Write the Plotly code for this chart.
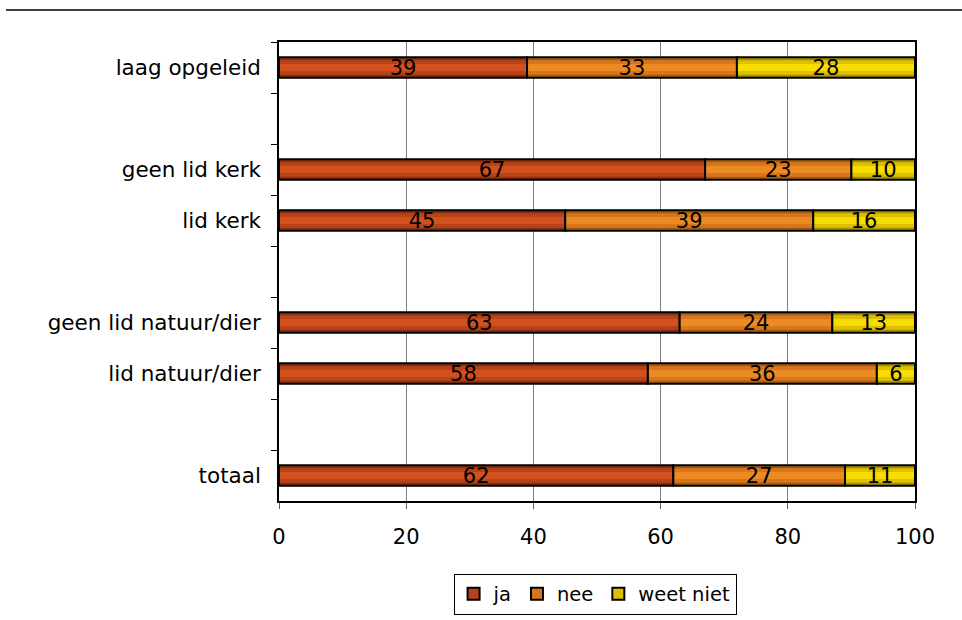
import plotly.graph_objects as go

# Groups, listed top to bottom; blank entries are spacer rows
categories = ["laag opgeleid", " ", "geen lid kerk", "lid kerk", "  ",
              "geen lid natuur/dier", "lid natuur/dier", "   ", "totaal"]
ja = [39, None, 67, 45, None, 63, 58, None, 62]
nee = [33, None, 23, 39, None, 24, 36, None, 27]
weet_niet = [28, None, 10, 16, None, 13, 6, None, 11]

series = [
    ("ja", ja, ["#8a300c", "#b8431a", "#d2521f"]),
    ("nee", nee, ["#a65c10", "#d8761b", "#ec8a24"]),
    ("weet niet", weet_niet, ["#a89000", "#dcc000", "#f7dc00"]),
]

FONT = "DejaVu Sans, Verdana, sans-serif"
fig = go.Figure()

# running left edge of each segment
base = [0 if v is not None else None for v in ja]
for name, vals, shades in series:
    bases = list(base)
    # shaded fill: a dark outer band with lighter bands towards the centre line
    for i, (w, col) in enumerate(zip([0.40, 0.28, 0.14], shades)):
        fig.add_trace(go.Bar(
            y=categories, x=vals, base=bases, orientation="h", width=w,
            marker=dict(color=col, line=dict(width=0)),
            showlegend=False, legendgroup=name, hoverinfo="skip",
        ))
    # outline and value label on top
    fig.add_trace(go.Bar(
        y=categories, x=vals, base=bases, orientation="h", width=0.40,
        marker=dict(color="rgba(0,0,0,0)", line=dict(width=2, color="black")),
        text=[str(v) if v is not None else "" for v in vals],
        textposition="inside", insidetextanchor="middle", textangle=0,
        constraintext="none",
        textfont=dict(family=FONT, size=21, color="black"),
        showlegend=False, legendgroup=name, hoverinfo="skip",
    ))
    # legend key in the bar's bright shade
    fig.add_trace(go.Bar(
        y=[None], x=[None], orientation="h", name=name, legendgroup=name,
        marker=dict(color=shades[1], line=dict(width=2, color="black")),
        hoverinfo="skip",
    ))
    base = [b + v if v is not None else None for b, v in zip(base, vals)]

fig.update_layout(
    width=962, height=620,
    margin=dict(l=279, r=47, t=42, b=119, autoexpand=False),
    barmode="overlay",
    plot_bgcolor="white", paper_bgcolor="white",
    font=dict(family=FONT, size=21, color="black"),
    legend=dict(orientation="h", x=0.497, xanchor="center", y=-0.158, yanchor="top",
                bordercolor="black", borderwidth=1, font=dict(size=19.5),
                itemwidth=30, tracegroupgap=0),
    shapes=[dict(type="line", xref="paper", yref="paper",
                 x0=(6 - 279) / 636, x1=(962 - 279) / 636,
                 y0=1 + 32 / 459, y1=1 + 32 / 459,
                 line=dict(color="black", width=1.5))],
)
fig.update_xaxes(
    range=[0, 100], tickvals=[0, 20, 40, 60, 80, 100], ticks="outside", ticklen=6,
    tickcolor="#606060", showline=True, linecolor="black", linewidth=1.5, mirror=True,
    showgrid=True, gridcolor="#808080", gridwidth=1, zeroline=False,
    tickfont=dict(size=21), ticklabelstandoff=10, fixedrange=True,
)
fig.update_yaxes(
    categoryorder="array", categoryarray=categories, autorange="reversed",
    tickson="boundaries", ticks="outside", ticklen=6, tickcolor="black",
    showline=True, linecolor="black", linewidth=1.5, mirror=True,
    showgrid=False, zeroline=False, tickfont=dict(size=21.5), ticklabelstandoff=12,
)

fig.write_html("out.html")
